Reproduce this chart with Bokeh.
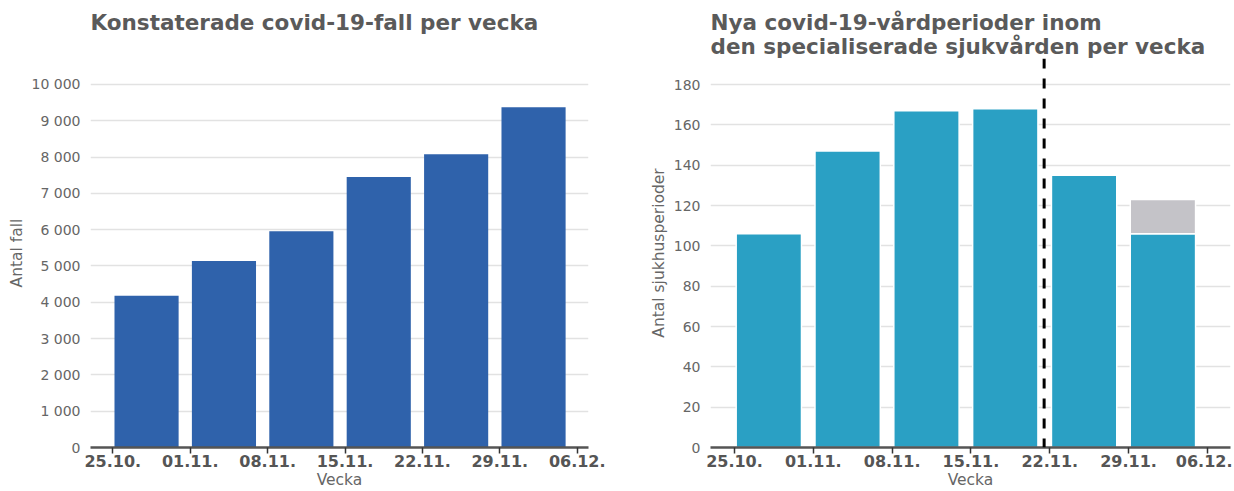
import pandas as pd
from bokeh.plotting import figure
from bokeh.layouts import row, column
from bokeh.models import FixedTicker, DatetimeTickFormatter, Range1d, Span, ColumnDataSource, Spacer
from bokeh.embed import file_html
from bokeh.resources import INLINE

# ---------------- data ----------------
week_starts = ["2020-10-25", "2020-11-01", "2020-11-08", "2020-11-15", "2020-11-22", "2020-11-29"]
tick_dates = ["2020-10-25", "2020-11-01", "2020-11-08", "2020-11-15", "2020-11-22", "2020-11-29", "2020-12-06"]
cases = [4180, 5140, 5960, 7450, 8080, 9370]
hosp_final = [106, 147, 167, 168, 135, 106]
hosp_prelim = [0, 0, 0, 0, 0, 17]
cases_yticks = [0, 1000, 2000, 3000, 4000, 5000, 6000, 7000, 8000, 9000, 10000]
hosp_yticks = [0, 20, 40, 60, 80, 100, 120, 140, 160, 180]
cutoff = "2020-11-21 12:00"

title_left = "Konstaterade covid-19-fall per vecka"
title_right = "Nya covid-19-vårdperioder inom\nden specialiserade sjukvården per vecka"

# ---------------- style ----------------
FONT = "DejaVu Sans"
TITLE_C = "#5a5a5a"
TICK_C = "#666666"
AXIS_C = "#555555"
BLUE_DARK = "#2f62ab"
BLUE_LIGHT = "#2aa0c4"
GREY = "#c4c3c8"

ws = pd.to_datetime(week_starts)
ticks = pd.to_datetime(tick_dates)
tick_ms = [t.value / 1e6 for t in ticks]
bar_x = ws + pd.Timedelta(days=3.05)
bar_w = 5.8 * 24 * 3600 * 1000
day = pd.Timedelta(days=1)

fmt = DatetimeTickFormatter(
    milliseconds="%d.%m.", seconds="%d.%m.", minsec="%d.%m.", minutes="%d.%m.",
    hourmin="%d.%m.", hours="%d.%m.", days="%d.%m.", months="%d.%m.", years="%d.%m.")


def fmt_num(v):
    return f"{v:,}".replace(",", " ")


def style(p, yticks, ylabel):
    p.title.text_font = FONT
    p.title.text_font_size = "21.5px"
    p.title.text_font_style = "bold"
    p.title.text_color = TITLE_C
    p.title.text_line_height = 0.93
    p.title.align = "left"
    p.title.standoff = 0
    p.outline_line_color = None
    p.xgrid.grid_line_color = None
    p.ygrid.grid_line_color = "#e2e2e2"
    p.ygrid.grid_line_width = 1.3
    p.ygrid.ticker = FixedTicker(ticks=yticks)

    xa = p.xaxis[0]
    xa.ticker = FixedTicker(ticks=tick_ms)
    xa.formatter = fmt
    xa.axis_line_color = AXIS_C
    xa.axis_line_width = 2.5
    xa.major_tick_line_color = "#333333"
    xa.major_tick_line_width = 1.5
    xa.major_tick_in = 0
    xa.major_tick_out = 6
    xa.minor_tick_line_color = None
    xa.major_label_text_font = FONT
    xa.major_label_text_font_size = "16px"
    xa.major_label_text_font_style = "bold"
    xa.major_label_text_color = AXIS_C
    xa.major_label_standoff = 1
    xa.axis_label = "Vecka"
    xa.axis_label_text_font = FONT
    xa.axis_label_text_font_size = "15.5px"
    xa.axis_label_text_font_style = "normal"
    xa.axis_label_text_color = TICK_C
    xa.axis_label_standoff = 1

    ya = p.yaxis[0]
    ya.ticker = FixedTicker(ticks=yticks)
    ya.major_label_overrides = {v: fmt_num(v) for v in yticks}
    ya.axis_line_color = None
    ya.major_tick_line_color = None
    ya.major_tick_out = 0
    ya.major_tick_in = 0
    ya.minor_tick_line_color = None
    ya.major_label_text_font = FONT
    ya.major_label_text_font_size = "14px"
    ya.major_label_text_color = TICK_C
    ya.major_label_standoff = 10
    ya.axis_label = ylabel
    ya.axis_label_text_font = FONT
    ya.axis_label_text_font_size = "15.5px"
    ya.axis_label_text_font_style = "normal"
    ya.axis_label_text_color = TICK_C
    ya.axis_label_standoff = 3


FIG_H = 483

# ---------------- left chart ----------------
p1 = figure(width=628, height=FIG_H, x_axis_type="datetime",
            x_range=Range1d(ticks[0] - 2.02 * day, ticks[-1] + 1.02 * day),
            y_range=Range1d(0, 10716),
            title=title_left + "\n ",
            output_backend="svg", toolbar_location=None,
            min_border_left=90, min_border_right=40, min_border_top=0)
src1 = ColumnDataSource(dict(x=bar_x, top=cases))
p1.vbar(x="x", top="top", width=bar_w, source=src1, fill_color=BLUE_DARK, line_color=None)
style(p1, cases_yticks, "Antal fall")

# ---------------- right chart ----------------
px_per_day = 11.26
r_start = ticks[0] - 2.13 * day
r_end = r_start + (520 / px_per_day) * day
p2 = figure(width=604, height=FIG_H, x_axis_type="datetime",
            x_range=Range1d(r_start, r_end),
            y_range=Range1d(0, 192.9),
            title=title_right,
            output_backend="svg", toolbar_location=None,
            min_border_left=82, min_border_right=2, min_border_top=0)
src2 = ColumnDataSource(dict(x=bar_x, top=hosp_final))
p2.vbar(x="x", top="top", bottom=0, width=bar_w, source=src2,
        fill_color=BLUE_LIGHT, line_color="white", line_width=1.5)
pre_idx = [i for i, v in enumerate(hosp_prelim) if v > 0]
src3 = ColumnDataSource(dict(x=[bar_x[i] for i in pre_idx],
                             bottom=[hosp_final[i] for i in pre_idx],
                             top=[hosp_final[i] + hosp_prelim[i] for i in pre_idx]))
p2.vbar(x="x", top="top", bottom="bottom", width=bar_w, source=src3,
        fill_color=GREY, line_color="white", line_width=1.5)
p2.add_layout(Span(location=pd.Timestamp(cutoff), dimension="height",
                   line_color="black", line_width=3, line_dash="10 10"))
style(p2, hosp_yticks, "Antal sjukhusperioder")

layout = column(Spacer(width=10, height=8), row(p1, p2))
open("out.html", "w").write(file_html(layout, INLINE))
